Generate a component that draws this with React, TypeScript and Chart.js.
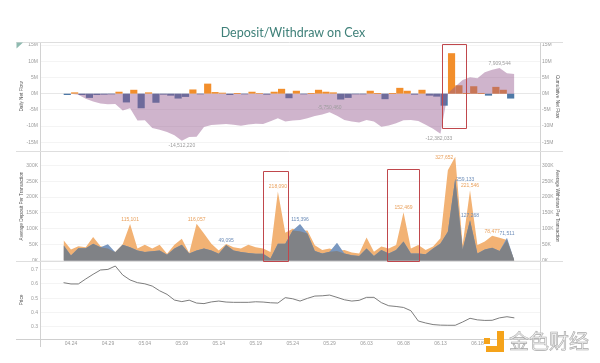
import React, { useEffect, useRef } from "react";
import { Chart, registerables } from "chart.js";

Chart.register(...registerables);

// ---------- data ----------
const DATES = [
  "04.23", "04.24", "04.25", "04.26", "04.27", "04.28", "04.29", "04.30",
  "05.01", "05.02", "05.03", "05.04", "05.05", "05.06", "05.07", "05.08", "05.09", "05.10",
  "05.11", "05.12", "05.13", "05.14", "05.15", "05.16", "05.17", "05.18", "05.19", "05.20",
  "05.21", "05.22", "05.23", "05.24", "05.25", "05.26", "05.27", "05.28", "05.29", "05.30", "05.31",
  "06.01", "06.02", "06.03", "06.04", "06.05", "06.06", "06.07", "06.08", "06.09", "06.10",
  "06.11", "06.12", "06.13", "06.14", "06.15", "06.16", "06.17", "06.18", "06.19", "06.20",
  "06.21", "06.22", "06.23",
];
const TICK_DATE_INDEX = [1, 6, 11, 16, 21, 26, 31, 36, 41, 46, 51, 56];

// daily net flow (millions), one bar per day
const NET_FLOW_M = [
  -0.3, 0.3, -0.3, -1.2, -0.3, -0.2, -0.1, 0.5, -2.6, 1.1,
  -4.4, 0.3, -2.7, -0.2, -0.5, -1.4, -0.9, 1.2, -0.1, 3.0,
  0.4, 0.2, -0.3, 0.05, -0.1, 0.5, 0.1, -0.2, 0.5, 1.4,
  -1.3, 0.8, -0.1, 0.05, 1.1, 0.5, 0.3, -1.7, -1.2, -0.1,
  -0.1, 0.8, 0.05, -1.6, 0.05, 1.7, 0.8, -0.2, 1.1, -0.5,
  -0.8, -3.6, 12.4, 2.5, 0.05, 2.2, 0.05, -0.5, 2.0, 1.1,
  -1.4,
];

// cumulative net flow (millions)
const CUMULATIVE_M = [
  0, -0.05, -0.3, -1.6, -2.4, -3.0, -3.3, -3.2, -5.2, -4.5,
  -8.3, -8.2, -10.6, -11.1, -11.8, -12.8, -14.51222, -13.4, -13.3, -10.3,
  -9.7, -9.5, -9.4, -9.6, -9.9, -9.5, -9.3, -9.4, -8.5, -7.6,
  -8.6, -8.3, -8.1, -7.6, -6.9, -6.4, -5.75046, -6.8, -8.1, -8.6,
  -8.9, -8.1, -8.6, -10.2, -9.8, -9.1, -8.2, -8.1, -8.4, -9.6,
  -10.8, -12.382033, 0.1, 2.2, 4.2, 5.1, 4.8, 6.6, 7.4, 7.909544,
  6.3, 6.1,
];

// average deposit per transaction (thousands)
const DEPOSIT_K = [
  64, 35, 45, 42, 74, 45, 38, 27, 51, 115.101,
  38, 50, 38, 50, 21, 50, 69, 24, 116.057, 85,
  53, 32, 52, 42, 38, 50, 42, 38, 27, 218.09,
  88, 100, 92, 95, 48, 33, 38, 30, 33, 25,
  22, 73, 28, 44, 38, 49, 152.469, 38, 49, 33,
  44, 70, 285, 327.652, 50, 221.546, 49, 60, 78.477, 72,
  65, 0,
];

// average withdraw per transaction (thousands)
const WITHDRAW_K = [
  48, 16, 39, 39, 53, 42, 51, 26, 50, 42,
  32, 27, 29, 32, 18, 38, 50, 22, 32, 38,
  32, 21, 49.095, 32, 27, 24, 21, 21, 6, 53,
  53, 95, 115.396, 85, 30, 22, 28, 56, 22, 17,
  14, 38, 14, 33, 22, 33, 60, 22, 22, 20,
  38, 54, 91, 259.133, 35, 127.268, 22, 35, 40, 30,
  71.511, 0,
];

const PRICE = [
  0.609, 0.6, 0.6, 0.635, 0.668, 0.698, 0.702, 0.726, 0.663, 0.628,
  0.609, 0.601, 0.585, 0.552, 0.527, 0.487, 0.476, 0.486, 0.466, 0.462,
  0.474, 0.48, 0.473, 0.471, 0.471, 0.471, 0.475, 0.473, 0.468, 0.466,
  0.504, 0.496, 0.48, 0.499, 0.515, 0.517, 0.522, 0.506, 0.489, 0.48,
  0.485, 0.506, 0.506, 0.469, 0.447, 0.442, 0.435, 0.412, 0.34, 0.326,
  0.315, 0.311, 0.31, 0.31, 0.333, 0.359, 0.348, 0.344, 0.345, 0.362,
  0.37, 0.362,
];

const NET_TICKS_M = [15, 10, 5, 0, -5, -10, -15];
const AVG_TICKS_K = [300, 250, 200, 150, 100, 50, 0];
const PRICE_TICKS = [0.7, 0.6, 0.5, 0.4, 0.3];

const CUM_LABEL_INDEX = [16, 36, 51, 59];
const DEPOSIT_LABEL_INDEX = [9, 18, 29, 46, 53, 55, 58];
const WITHDRAW_LABEL_INDEX = [22, 32, 53, 55, 60];

// highlighted regions (x in day index, y in axis units)
const HIGHLIGHTS = [
  { axis: "yCum", x0: 51.16, x1: 54.41, y0: 15.3, y1: -10.6 },
  { axis: "yAvg", x0: 27.0, x1: 30.4, y0: 282, y1: -1.5 },
  { axis: "yAvg", x0: 43.8, x1: 48.1, y0: 288, y1: -1.5 },
];

// ---------- styles / layout ----------
const X_MIN = -3.19;
const X_MAX = 64.47;
const TOP_RANGE = [-17.7, 15.96];
const AVG_RANGE = [-1.5, 345.5];
const PRICE_RANGE = [0.2137, 0.7611];
const PANEL_WEIGHTS = [109, 110, 78];

const ORANGE = "#f28e2b";
const BLUE = "#4e79a7";
const CUM_FILL = "rgba(148,88,142,0.45)";
const DEP_FILL = "#f2b274";
const WD_FILL = "#7a98c0";
const OVERLAP_FILL = "#808286";
const FONT = '"Liberation Sans", Arial, sans-serif';
const TICK_COLOR = "#9a9a9a";
const TITLE_COLOR = "#555555";
const GRID_COLOR = "#efefef";
const AXIS_COLOR = "#d2d2d2";
const BOX_COLOR = "#c0474c";

const CUM_LABEL_OFFSET = [[0, 5], [0, -5], [-1.5, 4.5], [0, -4]];
const DEP_LABEL_OFFSET: Record<number, [number, number]> = { 53: [-11, 0.5] };
const WD_LABEL_OFFSET: Record<number, [number, number]> = { 53: [10, 1.5] };

const fmt = (n: number) => Math.round(n).toLocaleString("en-US");

const zeroPad = (s: any) => {
  s.paddingTop = 0;
  s.paddingBottom = 0;
  s.paddingLeft = 0;
  s.paddingRight = 0;
};

function leftAxis(range: number[], weight: number, stackWeight: number, ticks: number[], fmtTick: (v: number) => string, title: string, zeroDark = false) {
  return {
    type: "linear",
    position: "left",
    stack: "left",
    stackWeight,
    weight,
    min: range[0],
    max: range[1],
    afterBuildTicks: (s: any) => {
      s.ticks = ticks.map((v) => ({ value: v }));
    },
    afterFit: (s: any) => {
      s.width = 26;
      zeroPad(s);
    },
    grid: {
      drawTicks: false,
      lineWidth: 0.7,
      color: (ctx: any) => (zeroDark && ctx.tick && ctx.tick.value === 0 ? "#dcdcdc" : GRID_COLOR),
    },
    border: { display: true, color: AXIS_COLOR, width: 1 },
    ticks: {
      autoSkip: false,
      padding: 2,
      color: TICK_COLOR,
      font: { size: 5, family: FONT },
      callback: (v: any) => fmtTick(Number(v)),
    },
    title: {
      display: true,
      text: title,
      color: TITLE_COLOR,
      font: { size: 4.7, family: FONT },
      padding: { top: 5, bottom: 0 },
    },
  };
}

function rightAxis(range: number[], weight: number, stackWeight: number, ticks: number[] | null, fmtTick: (v: number) => string, title: string | null) {
  return {
    type: "linear",
    position: "right",
    stack: "right",
    stackWeight,
    weight,
    min: range[0],
    max: range[1],
    afterBuildTicks: (s: any) => {
      s.ticks = (ticks || []).map((v) => ({ value: v }));
    },
    afterFit: (s: any) => {
      s.width = 24;
      zeroPad(s);
    },
    grid: { display: false, drawTicks: false },
    border: { display: true, color: AXIS_COLOR, width: 1 },
    ticks: {
      display: !!ticks,
      autoSkip: false,
      padding: 2,
      color: TICK_COLOR,
      font: { size: 5, family: FONT },
      callback: (v: any) => fmtTick(Number(v)),
    },
    title: {
      display: !!title,
      text: title || "",
      color: TITLE_COLOR,
      font: { size: 4.7, family: FONT },
      padding: { top: 4, bottom: 0 },
    },
  };
}

const framePlugin = {
  id: "frame",
  beforeDatasetsDraw(chart: any) {
    const { ctx, scales } = chart;
    ctx.save();
    ctx.lineWidth = 1;
    ctx.strokeStyle = "#dedede";
    const seps = [scales.yNet.top, scales.yAvg.top, scales.yPrice.top];
    seps.forEach((y: number) => {
      const yy = Math.round(y) + 0.5;
      ctx.beginPath();
      ctx.moveTo(16, yy);
      ctx.lineTo(563, yy);
      ctx.stroke();
    });
    ctx.strokeStyle = "#cfcfcf";
    const xb = Math.round(scales.x.top) + 0.5;
    ctx.beginPath();
    ctx.moveTo(16, xb);
    ctx.lineTo(chart.chartArea.right, xb);
    ctx.stroke();
    const lx = Math.round(chart.chartArea.left) + 0.5;
    ctx.beginPath();
    ctx.moveTo(lx, scales.x.top);
    ctx.lineTo(lx, scales.x.top + 8);
    ctx.stroke();
    // tableau corner marker
    ctx.fillStyle = "#8fbab0";
    ctx.beginPath();
    ctx.moveTo(16.5, scales.yNet.top + 0.5);
    ctx.lineTo(23, scales.yNet.top + 0.5);
    ctx.lineTo(16.5, scales.yNet.top + 6.5);
    ctx.closePath();
    ctx.fill();
    ctx.restore();
  },
};

const labelPlugin = {
  id: "valueLabels",
  afterDatasetsDraw(chart: any) {
    const { ctx, scales } = chart;
    const xs = scales.x;
    ctx.save();
    ctx.font = `5px ${FONT}`;
    ctx.textAlign = "center";
    ctx.textBaseline = "middle";

    ctx.fillStyle = "#9c9c9c";
    CUM_LABEL_INDEX.forEach((idx, k) => {
      const v = CUMULATIVE_M[idx];
      const [dx, dy] = CUM_LABEL_OFFSET[k];
      ctx.fillText(fmt(v * 1e6), xs.getPixelForValue(idx) + dx, scales.yCum.getPixelForValue(v) + dy);
    });

    ctx.fillStyle = "#e9a05c";
    DEPOSIT_LABEL_INDEX.forEach((idx) => {
      const v = DEPOSIT_K[idx];
      const [dx, dy] = DEP_LABEL_OFFSET[idx] || [0, -4.5];
      ctx.fillText(fmt(v * 1000), xs.getPixelForValue(idx) + dx, scales.yAvg.getPixelForValue(v) + dy);
    });

    ctx.fillStyle = "#6d8db8";
    WITHDRAW_LABEL_INDEX.forEach((idx) => {
      const v = WITHDRAW_K[idx];
      const [dx, dy] = WD_LABEL_OFFSET[idx] || [0, -4.5];
      ctx.fillText(fmt(v * 1000), xs.getPixelForValue(idx) + dx, scales.yAvg.getPixelForValue(v) + dy);
    });

    // highlight boxes
    ctx.strokeStyle = BOX_COLOR;
    ctx.lineWidth = 1;
    HIGHLIGHTS.forEach((h) => {
      const ys = scales[h.axis];
      const x0 = Math.round(xs.getPixelForValue(h.x0)) + 0.5;
      const x1 = Math.round(xs.getPixelForValue(h.x1)) + 0.5;
      const y0 = Math.round(ys.getPixelForValue(h.y0)) + 0.5;
      const y1 = Math.round(ys.getPixelForValue(h.y1)) + 0.5;
      ctx.beginPath();
      ctx.rect(x0, y0, x1 - x0, y1 - y0);
      ctx.stroke();
    });
    ctx.restore();
  },
};

export default function App() {
  const canvasRef = useRef<HTMLCanvasElement | null>(null);

  useEffect(() => {
    if (!canvasRef.current) return;
    const overlap = DEPOSIT_K.map((d, i) => Math.min(d, WITHDRAW_K[i]));
    const area = (vals: number[], color: string, axis: string, order: number) => ({
      type: "line",
      data: vals.map((v, i) => ({ x: i, y: v })),
      yAxisID: axis,
      fill: "origin",
      backgroundColor: color,
      borderColor: "transparent",
      borderWidth: 0,
      pointRadius: 0,
      tension: 0,
      order,
    });

    const chart = new Chart(canvasRef.current, {
      type: "line",
      data: {
        datasets: [
          {
            type: "bar",
            data: NET_FLOW_M.map((v, j) => ({ x: j + 0.5, y: v })),
            yAxisID: "yNet",
            backgroundColor: NET_FLOW_M.map((v) => (v >= 0 ? ORANGE : BLUE)),
            borderWidth: 0,
            barThickness: 6.5,
            order: 2,
          } as any,
          area(CUMULATIVE_M, CUM_FILL, "yCum", 1),
          area(DEPOSIT_K, DEP_FILL, "yAvg", 6),
          area(WITHDRAW_K, WD_FILL, "yAvg", 5),
          area(overlap, OVERLAP_FILL, "yAvg", 4),
          {
            type: "line",
            data: PRICE.map((v, i) => ({ x: i, y: v })),
            yAxisID: "yPrice",
            borderColor: "#6e6e6e",
            borderWidth: 0.9,
            pointRadius: 0,
            tension: 0,
            fill: false,
            order: 0,
          },
        ] as any,
      },
      options: {
        responsive: false,
        maintainAspectRatio: false,
        animation: false,
        events: [],
        layout: { padding: { left: 14, right: 36, top: 42, bottom: 14 } },
        plugins: {
          legend: { display: false },
          tooltip: { enabled: false },
          title: { display: false },
        },
        scales: {
          x: {
            type: "linear",
            min: X_MIN,
            max: X_MAX,
            offset: false,
            afterBuildTicks: (s: any) => {
              s.ticks = TICK_DATE_INDEX.map((v) => ({ value: v }));
            },
            afterFit: (s: any) => {
              s.height = 10;
              zeroPad(s);
            },
            grid: { display: false, drawTicks: false },
            border: { display: false },
            ticks: {
              autoSkip: false,
              maxRotation: 0,
              padding: 2,
              color: TICK_COLOR,
              font: { size: 5, family: FONT },
              callback: (v: any) => DATES[Number(v)] ?? "",
            },
          },
          yNet: leftAxis(TOP_RANGE, 3, PANEL_WEIGHTS[0], NET_TICKS_M, (v) => `${v}M`, "Daily Net Flow", true),
          yAvg: leftAxis(AVG_RANGE, 2, PANEL_WEIGHTS[1], AVG_TICKS_K, (v) => `${v}K`, "Average Deposit Per Transaction"),
          yPrice: leftAxis(PRICE_RANGE, 1, PANEL_WEIGHTS[2], PRICE_TICKS, (v) => v.toFixed(1), "Price"),
          yCum: rightAxis(TOP_RANGE, 1, PANEL_WEIGHTS[0], NET_TICKS_M, (v) => `${v}M`, "Cumulative Net Flow"),
          yWd: rightAxis(AVG_RANGE, 2, PANEL_WEIGHTS[1], AVG_TICKS_K, (v) => `${v}K`, "Average Withdraw Per Transaction"),
          yBlank: rightAxis([0, 1], 3, PANEL_WEIGHTS[2], null, () => "", null),
        } as any,
      },
      plugins: [framePlugin, labelPlugin],
    } as any);

    return () => chart.destroy();
  }, []);

  return (
    <div style={{ position: "absolute", left: 0, top: 0, width: 600, height: 363, background: "#fff", overflow: "hidden" }}>
      <canvas ref={canvasRef} width={600} height={363} style={{ position: "absolute", left: 0, top: 0, width: 600, height: 363 }} />
      <div
        style={{
          position: "absolute",
          left: 0,
          top: 25,
          width: 586,
          textAlign: "center",
          fontFamily: "Lato, 'Open Sans', sans-serif",
          fontSize: 12.5,
          lineHeight: "15px",
          color: "#3f8079",
        }}
      >
        Deposit/Withdraw on Cex
      </div>
      <div style={{ position: "absolute", left: 484, top: 338, width: 6, height: 6, background: "#f5a31a" }} />
      <div style={{ position: "absolute", left: 497, top: 331, width: 7, height: 21, background: "#f5a31a" }} />
      <div style={{ position: "absolute", left: 486, top: 346, width: 18, height: 6, background: "#f5a31a" }} />
      <div
        style={{
          position: "absolute",
          left: 509,
          top: 329,
          fontFamily: "'Noto Sans CJK SC', sans-serif",
          fontSize: 20,
          fontWeight: 400,
          lineHeight: "24px",
          color: "#f2f2f2",
          WebkitTextStroke: "0.6px #a8a8a8",
          whiteSpace: "nowrap",
        }}
      >
        金色财经
      </div>
    </div>
  );
}
